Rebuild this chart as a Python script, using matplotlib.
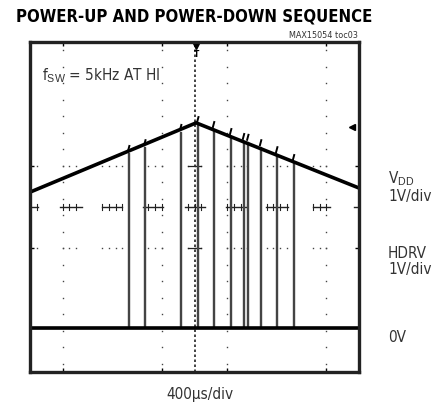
import numpy as np
import matplotlib
matplotlib.use("Agg")
import matplotlib.pyplot as plt

plt.rcParams['font.family'] = ['DejaVu Sans']
plt.rcParams['font.stretch'] = 'condensed'
plt.rcParams['mathtext.fontset'] = 'custom'
plt.rcParams['mathtext.rm'] = 'Liberation Sans'

# screen in divisions: 10 x 8, centre at (5, 0), 400us/div, 1V/div
vdd_t = [0.0, 5.05, 10.0]
vdd_v = [0.36, 2.04, 0.46]

# HDRV pulses (time in div) and their top level (= VDD at that time)
pulse_t = [2.98, 3.47, 4.56, 5.08, 5.56, 6.08, 6.47, 6.60, 6.99, 7.48, 7.99]
pulse_top = [1.31, 1.45, 1.82, 2.01, 1.89, 1.72, 1.60, 1.58, 1.45, 1.28, 1.09]
pulse_w = 0.03
hdrv_low = -2.93

# graticule pieces that show up on the screen
grid_x = [1, 4, 6, 9]
cross_groups = [(0.0, 0.24), (0.91, 1.58), (2.19, 2.8), (3.43, 4.04), (4.71, 5.32),
                (5.96, 6.6), (7.17, 7.84), (8.6, 9.12), (9.85, 10.0)]

fig = plt.figure(figsize=(4.41, 4.06), dpi=100)
ax = fig.add_axes([30/441, 33/406, 329/441, 330/406])
ax.set_xlim(0, 10)
ax.set_ylim(-4, 4)

# dotted vertical graticule
dy = np.arange(-3.8, 3.81, 0.4)
for gx in grid_x:
    ax.plot(np.full_like(dy, gx), dy, ls='none', marker='s', ms=1.0, color='#444', mew=0)
# centre vertical, densely dotted
ax.plot([5, 5], [-4, 4], color='#222', lw=1.2, ls=(0, (1.5, 1.5)))

# centre horizontal with ticks, and dotted rows at +-1 div
for a, b in cross_groups:
    ax.plot([a, b], [0, 0], color='#222', lw=1.0)
    ticks = np.arange(np.ceil(a / 0.2) * 0.2, b + 1e-6, 0.2)
    for tk in ticks:
        ax.plot([tk, tk], [-0.08, 0.08], color='#222', lw=0.8)
        for ry in (1, -1):
            ax.plot(tk, ry, ls='none', marker='s', ms=1.0, color='#444', mew=0)
for ry in (1, -1):
    ax.plot([4.8, 5.2], [ry, ry], color='#222', lw=0.9)

# HDRV trace
ht = [0.0]
hv = [hdrv_low]
for t, top in zip(pulse_t, pulse_top):
    ht += [t, t, t + pulse_w, t + pulse_w]
    hv += [hdrv_low, top, top, hdrv_low]
ht.append(10.0)
hv.append(hdrv_low)
ax.plot(ht, hv, color='#444', lw=1.0)
ax.plot([0, 10], [hdrv_low, hdrv_low], color='black', lw=2.6)

# VDD trace with small spikes at each edge
ax.plot(vdd_t, vdd_v, color='black', lw=2.6)
for t, top in zip(pulse_t, pulse_top):
    ax.plot([t, t + 0.04], [top + 0.05, top + 0.17], color='black', lw=1.4)

# trigger markers
ax.plot(5.05, 3.9, marker='v', ms=4, color='black')
ax.text(5.05, 3.72, 'T', ha='center', va='center', fontsize=6, fontweight='bold')
ax.plot(9.8, 1.94, marker='<', ms=4, color='black')

ax.set_xticks(grid_x)
ax.set_yticks([-1, 1])
ax.tick_params(direction='in', length=3, width=1, top=True, right=True,
               labelbottom=False, labelleft=False)
for s in ax.spines.values():
    s.set_linewidth(2.4)
    s.set_color('#222')

ax.text(0.35, 3.2, r'f$_{\rm SW}$ = 5kHz AT HI', fontsize=11, color='#333', va='center')

fig.text(16/441, 1 - 17/406, 'POWER-UP AND POWER-DOWN SEQUENCE', fontsize=12,
         fontweight='bold', va='center', ha='left')
fig.text(358/441, 1 - 35/406, 'MAX15054 toc03', fontsize=6.5, color='#333',
         va='center', ha='right')
fig.text(200/441, 1 - 395/406, '400\u00b5s/div', fontsize=11, color='#333',
         va='center', ha='center')

lx = 388/441
fig.text(lx, 1 - 179/406, r'V$_{\rm DD}$', fontsize=11, color='#333', va='center')
fig.text(lx, 1 - 196/406, '1V/div', fontsize=11, color='#333', va='center')
fig.text(lx, 1 - 254/406, 'HDRV', fontsize=11, color='#333', va='center')
fig.text(lx, 1 - 270/406, '1V/div', fontsize=11, color='#333', va='center')
fig.text(lx, 1 - 337/406, '0V', fontsize=11, color='#333', va='center')

fig.savefig('out.png', dpi=100)
